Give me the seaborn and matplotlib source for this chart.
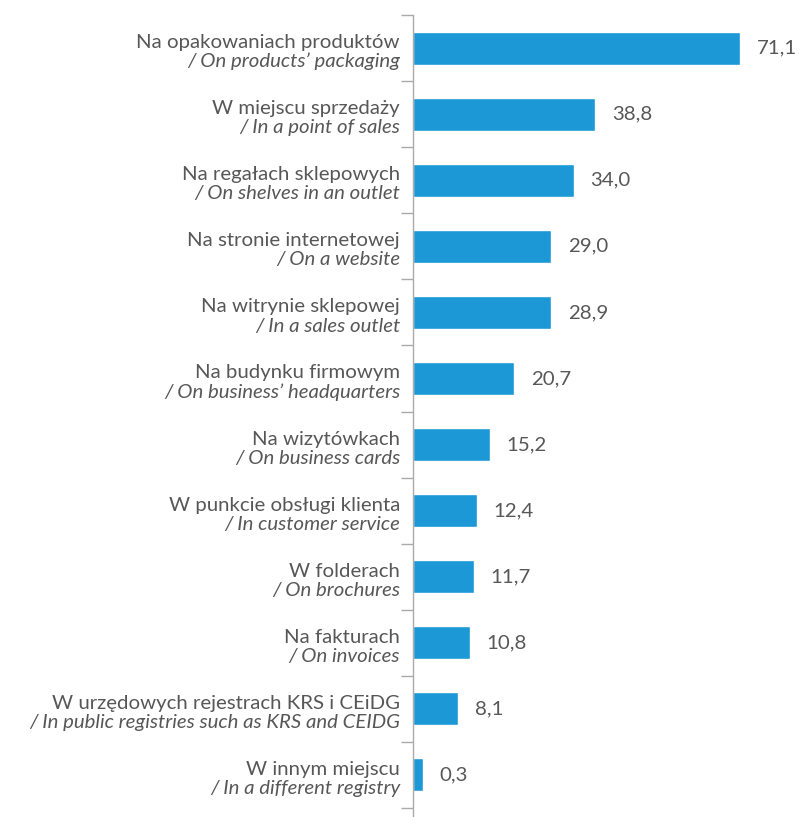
import numpy as np
import pandas as pd
import seaborn as sns
import matplotlib.pyplot as plt
import matplotlib.transforms as mtransforms

# Dane
etykiety_pl = [
    "Na opakowaniach produktów",
    "W miejscu sprzedaży",
    "Na regałach sklepowych",
    "Na stronie internetowej",
    "Na witrynie sklepowej",
    "Na budynku firmowym",
    "Na wizytówkach",
    "W punkcie obsługi klienta",
    "W folderach",
    "Na fakturach",
    "W urzędowych rejestrach KRS i CEiDG",
    "W innym miejscu",
]
etykiety_en = [
    "/ On products’ packaging",
    "/ In a point of sales",
    "/ On shelves in an outlet",
    "/ On a website",
    "/ In a sales outlet",
    "/ On business’ headquarters",
    "/ On business cards",
    "/ In customer service",
    "/ On brochures",
    "/ On invoices",
    "/ In public registries such as KRS and CEIDG",
    "/ In a different registry",
]
wartosci = [71.1, 38.8, 34.0, 29.0, 28.9, 20.7, 15.2, 12.4, 11.7, 10.8, 8.1, 0.3]

df = pd.DataFrame({"kat": etykiety_pl, "val": wartosci})

sns.set_style("white")
plt.rcParams['font.family'] = ['Lato', 'DejaVu Sans']
szary = "#575757"
fs = 14.7

fig = plt.figure(figsize=(7.99, 8.17), dpi=100)
ax = fig.add_axes([413 / 799, 1 - 808 / 817, 1 - 413 / 799, (808 - 15) / 817])

sns.barplot(data=df, x="val", y="kat", orient="h", color="#1b98d5",
            saturation=1, width=0.5, ax=ax)

x0 = -1.94
ax.set_xlim(x0, 84.3)
# slupki zaczynaja sie od osi (jak w oryginale)
for p in ax.patches:
    p.set_width(p.get_width() - x0)
    p.set_x(x0)

ax.set_ylim(11.5, -0.5)
ax.set_xlabel("")
ax.set_ylabel("")
ax.set_xticks([])
ax.set_yticks(np.arange(-0.5, 12, 1))
ax.set_yticklabels([])
ax.tick_params(axis="y", length=9, width=1, color="#aaaaaa", direction="out", left=True)
for s in ["top", "right", "bottom"]:
    ax.spines[s].set_visible(False)
ax.spines["left"].set_color("#aaaaaa")
ax.spines["left"].set_linewidth(1)
ax.spines["left"].set_bounds(-0.5, 11.7)

# Etykiety kategorii (dwie linie)
trans = mtransforms.blended_transform_factory(ax.transAxes, ax.transData)
off = -13 / 386
for i, (pl, en) in enumerate(zip(etykiety_pl, etykiety_en)):
    ax.text(off, i + 0.0, pl, transform=trans, ha="right", va="baseline",
            fontsize=fs, color=szary)
    ax.text(off, i + 0.29, en, transform=trans, ha="right", va="baseline",
            fontsize=fs, color=szary, style="italic")

# Wartości
for i, v in enumerate(wartosci):
    ax.annotate(f"{v:.1f}".replace(".", ","), (v, i), xytext=(12, 0),
                textcoords="offset points", ha="left", va="center",
                fontsize=fs, color=szary)

plt.savefig("out.png", dpi=100)
